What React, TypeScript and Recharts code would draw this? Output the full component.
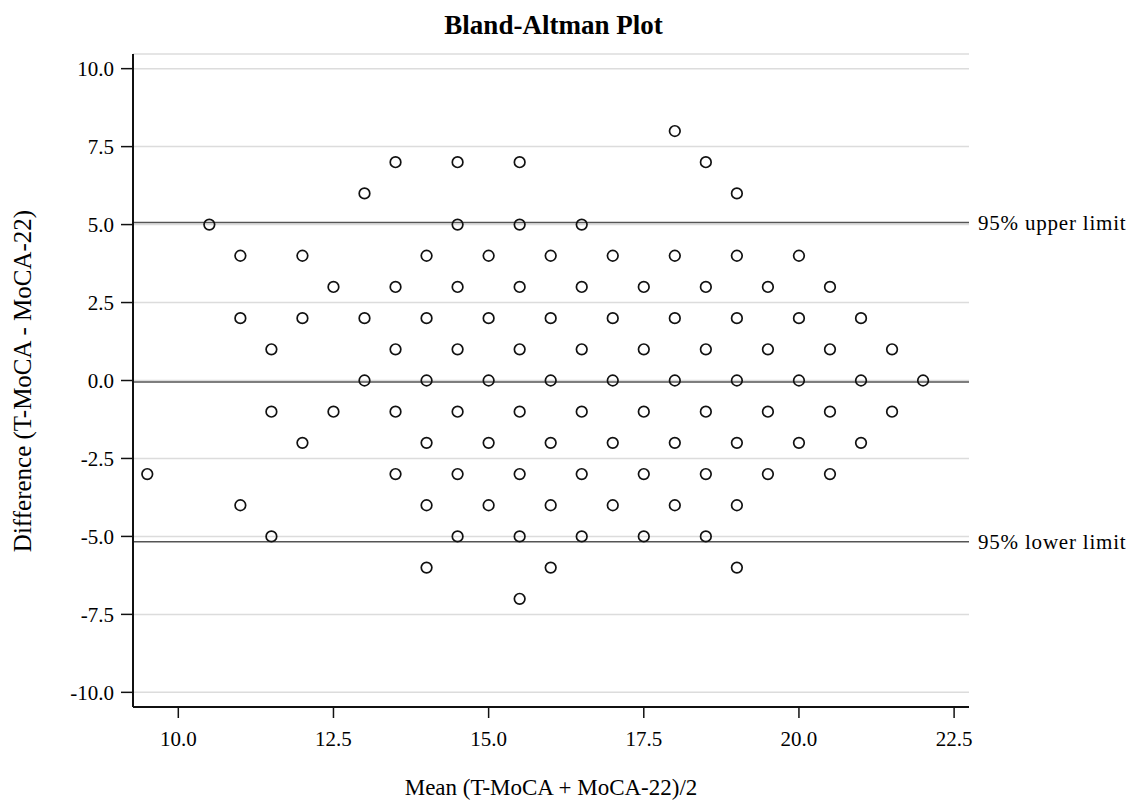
import React from 'react';
import {
  ScatterChart,
  Scatter,
  XAxis,
  YAxis,
  CartesianGrid,
  ReferenceLine,
} from 'recharts';

// Difference levels (T-MoCA - MoCA-22) and the means observed at each level
const diffLevels = [8, 7, 6, 5, 4, 3, 2, 1, 0, -1, -2, -3, -4, -5, -6, -7];
const meansAtDiff: number[][] = [
  [18],
  [13.5, 14.5, 15.5, 18.5],
  [13, 19],
  [10.5, 14.5, 15.5, 16.5],
  [11, 12, 14, 15, 16, 17, 18, 19, 20],
  [12.5, 13.5, 14.5, 15.5, 16.5, 17.5, 18.5, 19.5, 20.5],
  [11, 12, 13, 14, 15, 16, 17, 18, 19, 20, 21],
  [11.5, 13.5, 14.5, 15.5, 16.5, 17.5, 18.5, 19.5, 20.5, 21.5],
  [13, 14, 15, 16, 17, 18, 19, 20, 21, 22],
  [11.5, 12.5, 13.5, 14.5, 15.5, 16.5, 17.5, 18.5, 19.5, 20.5, 21.5],
  [12, 14, 15, 16, 17, 18, 19, 20, 21],
  [9.5, 13.5, 14.5, 15.5, 16.5, 17.5, 18.5, 19.5, 20.5],
  [11, 14, 15, 16, 17, 18, 19],
  [11.5, 14.5, 15.5, 16.5, 17.5, 18.5],
  [14, 16, 19],
  [15.5],
];

const xTicks = [10, 12.5, 15, 17.5, 20, 22.5];
const yTicks = [-10, -7.5, -5, -2.5, 0, 2.5, 5, 7.5, 10];
const upperLimit = 5.07;
const meanDiff = -0.05;
const lowerLimit = -5.17;

const points = diffLevels.flatMap((d, i) => meansAtDiff[i].map((m) => ({ x: m, y: d })));

const FONT = '"Liberation Serif", "Times New Roman", serif';

const Ring = (props: any) => {
  const { cx, cy } = props;
  if (cx == null || cy == null) return null;
  return <circle cx={cx} cy={cy} r={5.3} fill="none" stroke="#111" strokeWidth={1.7} />;
};

const limitLabel = (value: string) => ({
  value,
  position: 'right' as const,
  offset: 9,
  fill: '#000',
  fontSize: 21,
  fontFamily: FONT,
  letterSpacing: 0.8,
});

export default function App() {
  return (
    <div style={{ position: 'absolute', left: 0, top: 0, width: 1132, height: 800, background: '#fff', fontFamily: FONT, overflow: 'hidden' }}>
      <ScatterChart
        width={1132}
        height={800}
        margin={{ top: 54, right: 163, bottom: 0, left: 0 }}
        style={{ overflow: 'visible' }}
      >
        <CartesianGrid horizontal vertical={false} stroke="#dcdcdc" strokeWidth={1.5} xAxisId="b" yAxisId="l" />
        <XAxis
          xAxisId="b"
          type="number"
          dataKey="x"
          domain={[9.27, 22.74]}
          ticks={xTicks}
          allowDataOverflow
          tickFormatter={(v: number) => v.toFixed(1)}
          height={93}
          tickSize={11}
          tickMargin={13}
          axisLine={{ stroke: '#111', strokeWidth: 2 }}
          tickLine={{ stroke: '#111', strokeWidth: 1.5 }}
          tick={{ fill: '#000', fontSize: 21, fontFamily: FONT }}
        />
        <XAxis xAxisId="t" orientation="top" type="number" domain={[9.27, 22.74]} height={0} tick={false} tickLine={false} axisLine={{ stroke: '#333', strokeWidth: 1.5 }} />
        <YAxis
          yAxisId="l"
          type="number"
          dataKey="y"
          domain={[-10.47, 10.47]}
          ticks={yTicks}
          allowDataOverflow
          tickFormatter={(v: number) => v.toFixed(1)}
          width={133}
          tickSize={12}
          tickMargin={7}
          axisLine={{ stroke: '#111', strokeWidth: 2 }}
          tickLine={{ stroke: '#111', strokeWidth: 1.5 }}
          tick={{ fill: '#000', fontSize: 21, fontFamily: FONT }}
        />
        <YAxis yAxisId="r" orientation="right" type="number" domain={[-10.47, 10.47]} width={0} tick={false} tickLine={false} axisLine={{ stroke: '#333', strokeWidth: 1.5 }} />
        <ReferenceLine xAxisId="b" yAxisId="l" y={upperLimit} stroke="#555" strokeWidth={1.5} label={limitLabel('95% upper limit')} />
        <ReferenceLine xAxisId="b" yAxisId="l" y={meanDiff} stroke="#555" strokeWidth={1.5} />
        <ReferenceLine xAxisId="b" yAxisId="l" y={lowerLimit} stroke="#555" strokeWidth={1.5} label={limitLabel('95% lower limit')} />
        <Scatter xAxisId="b" yAxisId="l" data={points} shape={Ring} isAnimationActive={false} />
      </ScatterChart>
      <div style={{ position: 'absolute', left: 0, width: 1107, top: 12, lineHeight: 1, textAlign: 'center', fontSize: 27, fontWeight: 'bold', color: '#000', whiteSpace: 'nowrap' }}>
        Bland-Altman Plot
      </div>
      <div style={{ position: 'absolute', left: 133, width: 836, top: 776, lineHeight: 1, textAlign: 'center', fontSize: 23, color: '#000', whiteSpace: 'nowrap' }}>
        Mean (T-MoCA + MoCA-22)/2
      </div>
      <div style={{ position: 'absolute', left: 22, top: 381, width: 0, height: 0, fontSize: 25, color: '#000' }}>
        <div style={{ position: 'absolute', left: 0, top: 0, lineHeight: 1, transform: 'translate(-50%, -50%) rotate(-90deg)', whiteSpace: 'nowrap' }}>
          Difference (T-MoCA - MoCA-22)
        </div>
      </div>
    </div>
  );
}
